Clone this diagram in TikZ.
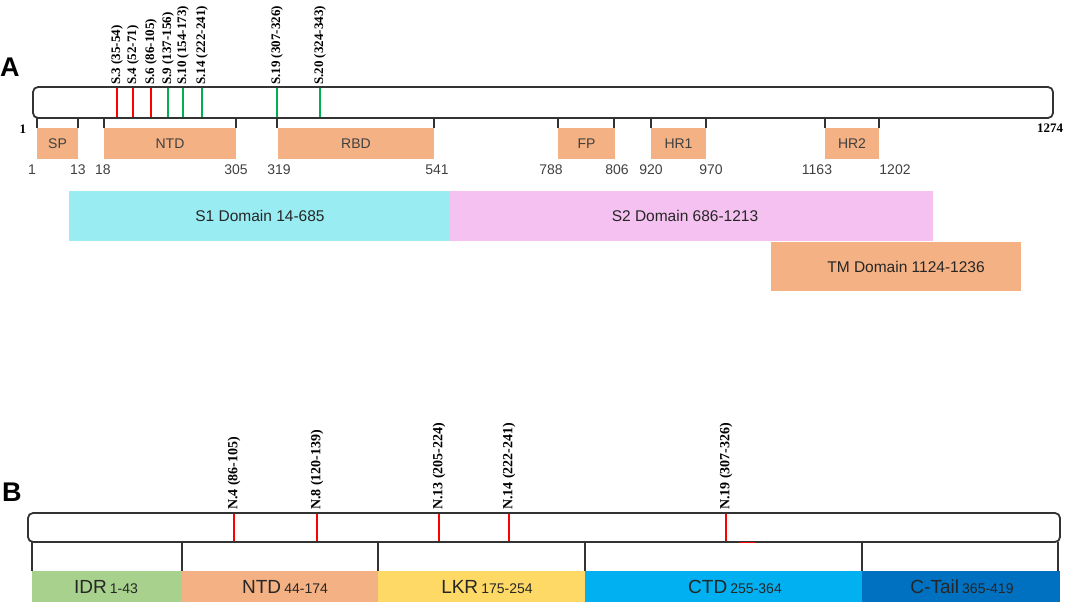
\documentclass[tikz,border=0pt]{standalone}
\usepackage{fontspec}
\setmainfont{Liberation Sans}
\newfontfamily\lblfont{Liberation Serif}
\usetikzlibrary{positioning}

\definecolor{domorange}{HTML}{F4B183}
\definecolor{domcyan}{HTML}{98ECF2}
\definecolor{dompink}{HTML}{F5C1F1}
\definecolor{idrgreen}{HTML}{A9D18E}
\definecolor{lkryellow}{HTML}{FFD966}
\definecolor{ctdblue}{HTML}{00B0F0}
\definecolor{tailblue}{HTML}{0070C0}
\definecolor{txtgray}{HTML}{404040}
\definecolor{txtdark}{HTML}{262626}
\definecolor{linegray}{HTML}{333333}
\definecolor{epred}{HTML}{FF0000}
\definecolor{epgreen}{HTML}{00B050}

\begin{document}
\begin{tikzpicture}[x=1pt, y=-1pt,
  panel/.style={anchor=south west, inner sep=0pt, font=\bfseries\fontsize{27}{27}\selectfont},
  bar/.style={draw=linegray, line width=1.8pt, rounded corners=5pt, fill=white, inner sep=0pt},
  tick/.style={draw=linegray, line width=1.8pt},
  dombox/.style={fill=domorange, inner sep=0pt, minimum height=31pt, text=txtgray, font=\fontsize{14}{14}\selectfont},
  num/.style={inner sep=0pt, text=txtgray, font=\fontsize{14}{14}\selectfont},
  span/.style={inner sep=0pt, minimum height=50pt, text=txtdark, font=\fontsize{15.5}{16}\selectfont},
  part/.style={inner sep=0pt, minimum height=31pt, text=txtdark},
  epi/.style={rotate=90, anchor=west, inner sep=1pt, font=\lblfont\bfseries\fontsize{#1}{#1}\selectfont},
  epi/.default=13,
  ends/.style={inner sep=0pt, font=\lblfont\bfseries\fontsize{13}{13}\selectfont},
  epline/.style={line width=2.2pt}
]
\useasboundingbox (0,0) rectangle (1075,615);

% A: spike protein
\node[panel] (labA) at (0,77) {A};
\node[bar, minimum width=1020pt, minimum height=31pt] (barA) at (543,102.5) {};
\node[ends] (startA) at (23,129) {1};
\node[ends] (endA) at (1050,128) {1274};

\foreach \x in {37,78,104,236,277,434,558,614,651,706,825,879}
  \draw[tick] (\x,118) -- (\x,128);

\node[dombox, minimum width=41pt] (sp) at (57.5,143.5) {SP};
\node[dombox, minimum width=132pt] (ntdA) at (170,143.5) {NTD};
\node[dombox, minimum width=156pt] (rbd) at (356,143.5) {RBD};
\node[dombox, minimum width=57pt] (fp) at (586.5,143.5) {FP};
\node[dombox, minimum width=55pt] (hr1) at (678.5,143.5) {HR1};
\node[dombox, minimum width=54pt] (hr2) at (852,143.5) {HR2};

\foreach \x/\t in {32/1, 78/13, 103/18, 236/305, 279/319, 437/541, 551/788, 617/806, 651/920, 711/970, 817/1163, 895/1202}
  \node[num] (pos-\t) at (\x,170) {\t};

\foreach \x/\c/\t in {117/epred/{S.3 (35-54)}, 133/epred/{S.4 (52-71)}, 151/epred/{S.6 (86-105)},
    168/epgreen/{S.9 (137-156)}, 183/epgreen/{S.10 (154-173)}, 202/epgreen/{S.14 (222-241)},
    277/epgreen/{S.19 (307-326)}, 320/epgreen/{S.20 (324-343)}}{
  \draw[epline, \c] (\x,88) -- (\x,117);
  \node[epi] (s-\x) at (\x,86) {\t};
}

\node[span, fill=domcyan, minimum width=381pt] (s1) at (259.5,216) {};
\node[span, fill=dompink, minimum width=483pt] (s2) at (691.5,216) {};
\node[span, fill=domorange, minimum width=250pt, minimum height=49pt] (tm) at (896,266.5) {};
\node[span] (s1txt) at (260,216) {S1 Domain 14-685};
\node[span] (s2txt) at (685,216) {S2 Domain 686-1213};
\node[span] (tmtxt) at (906,267) {TM Domain 1124-1236};

% B: nucleocapsid protein
\node[panel] (labB) at (2,502) {B};
\node[bar, minimum width=1032pt, minimum height=29pt] (barB) at (544,527.5) {};

\foreach \x in {32,182,378,585,862,1058}
  \draw[tick] (\x,542) -- (\x,571);

\foreach \x/\t in {234/{N.4 (86-105)}, 317/{N.8 (120-139)}, 439/{N.13 (205-224)}, 509/{N.14 (222-241)}, 726/{N.19 (307-326)}}{
  \draw[epline, epred] (\x,514) -- (\x,541);
  \node[epi=14] (n-\x) at (\x,511) {\t};
}
\draw[epred, line width=1pt] (739,542) -- (755,542);

\node[part, fill=idrgreen, minimum width=150pt] (idr) at (107,586.5) {};
\node[part, fill=domorange, minimum width=196pt] (ntdB) at (280,586.5) {};
\node[part, fill=lkryellow, minimum width=207pt] (lkr) at (481.5,586.5) {};
\node[part, fill=ctdblue, minimum width=277pt] (ctd) at (723.5,586.5) {};
\node[part, fill=tailblue, minimum width=198pt] (ctail) at (961,586.5) {};

\node[part] (idrtxt) at (106,587) {\fontsize{19}{19}\selectfont IDR\,\fontsize{14}{14}\selectfont 1-43};
\node[part] (ntdtxt) at (285,587) {\fontsize{19}{19}\selectfont NTD\,\fontsize{14}{14}\selectfont 44-174};
\node[part] (lkrtxt) at (487,587) {\fontsize{19}{19}\selectfont LKR\,\fontsize{14}{14}\selectfont 175-254};
\node[part] (ctdtxt) at (735,587) {\fontsize{19}{19}\selectfont CTD\,\fontsize{14}{14}\selectfont 255-364};
\node[part] (ctailtxt) at (962,587) {\fontsize{19}{19}\selectfont C-Tail\,\fontsize{14}{14}\selectfont 365-419};
\end{tikzpicture}
\end{document}
